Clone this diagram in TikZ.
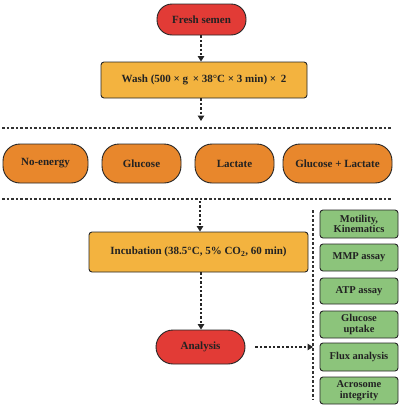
\documentclass[tikz,border=0pt]{standalone}
\usepackage{fontspec}
\setmainfont{Liberation Serif}
\usetikzlibrary{arrows.meta}
\definecolor{cred}{HTML}{E23B36}
\definecolor{cyel}{HTML}{F3B33F}
\definecolor{corg}{HTML}{E8872C}
\definecolor{cgrn}{HTML}{8CC47B}
\definecolor{ctxt}{HTML}{222222}
\begin{document}
\begin{tikzpicture}[x=1pt,y=-1pt,
  base/.style={draw=black!85,line width=0.9pt,text=ctxt,font=\bfseries\fontsize{11}{11}\selectfont,align=center,inner sep=1pt},
  pill/.style={base,rounded corners=#1},
  redpill/.style={pill=15pt,fill=cred},
  orgpill/.style={pill=17pt,fill=corg},
  ybox/.style={base,rounded corners=3pt,fill=cyel},
  gbox/.style={base,rounded corners=3pt,fill=cgrn,minimum width=78pt,font=\bfseries\fontsize{10.5}{10.5}\selectfont},
  arr/.style={line width=1.2pt,dash pattern=on 2.4pt off 2pt,draw=black!85,-{Triangle[length=5.5pt,width=6.5pt]}},
  sep/.style={line width=1.1pt,dash pattern=on 2.6pt off 2pt,draw=black!80}
]
\useasboundingbox (0,0) rectangle (400,407);
\node[redpill,minimum width=89pt,minimum height=31pt] (fresh) at (201.5,19.5) {Fresh semen};
\node[ybox,minimum width=206pt,minimum height=36pt] (wash) at (204,80) {Wash (500 × g\, × 38°C × 3 min) ×\, 2};
\coordinate (w1) at (201,121);
\draw[arr] (fresh.south -| 201,0) -- (wash.north -| 201,0);
\draw[arr] (wash.south -| 201,0) -- (w1);
\draw[sep] (2,128) -- (392,128);
\node[orgpill,minimum width=85pt,minimum height=39pt] (none) at (45.5,163.5) {No-energy};
\node[orgpill,minimum width=79pt,minimum height=39pt] (glc) at (141.5,163.5) {Glucose};
\node[orgpill,minimum width=79pt,minimum height=39pt] (lac) at (234.5,163.5) {Lactate};
\node[orgpill,minimum width=109pt,minimum height=39pt] (gl) at (337.5,163.5) {Glucose + Lactate};
\draw[sep] (2,199) -- (392,199);
\coordinate (i0) at (200,201);
\node[ybox,minimum width=219pt,minimum height=40pt] (inc) at (198.5,252) {Incubation (38.5°C, 5\% CO\textsubscript{2}, 60 min)};
\draw[arr] (i0) -- (inc.north -| i0);
\node[redpill,minimum width=89pt,minimum height=34pt,pill=17pt] (ana) at (200.5,347) {Analysis};
\draw[arr] (inc.south -| 201,0) -- (ana.north -| 201,0);
\coordinate (a1) at (313,347);
\draw[arr] (ana.east) ++(10,0) -- (a1);
\draw[sep] (313,210) -- (313,400);
\node[gbox,minimum height=28pt] (mot) at (359,224) {Motility,\\Kinematics};
\node[gbox,minimum height=27pt] (mmp) at (359,257.5) {MMP assay};
\node[gbox,minimum height=26pt] (atp) at (359,291) {ATP assay};
\node[gbox,minimum height=27pt] (glu) at (359,324.5) {Glucose\\uptake};
\node[gbox,minimum height=28pt] (flux) at (359,357) {Flux analysis};
\node[gbox,minimum height=27pt] (acr) at (359,390.5) {Acrosome\\integrity};
\end{tikzpicture}
\end{document}
